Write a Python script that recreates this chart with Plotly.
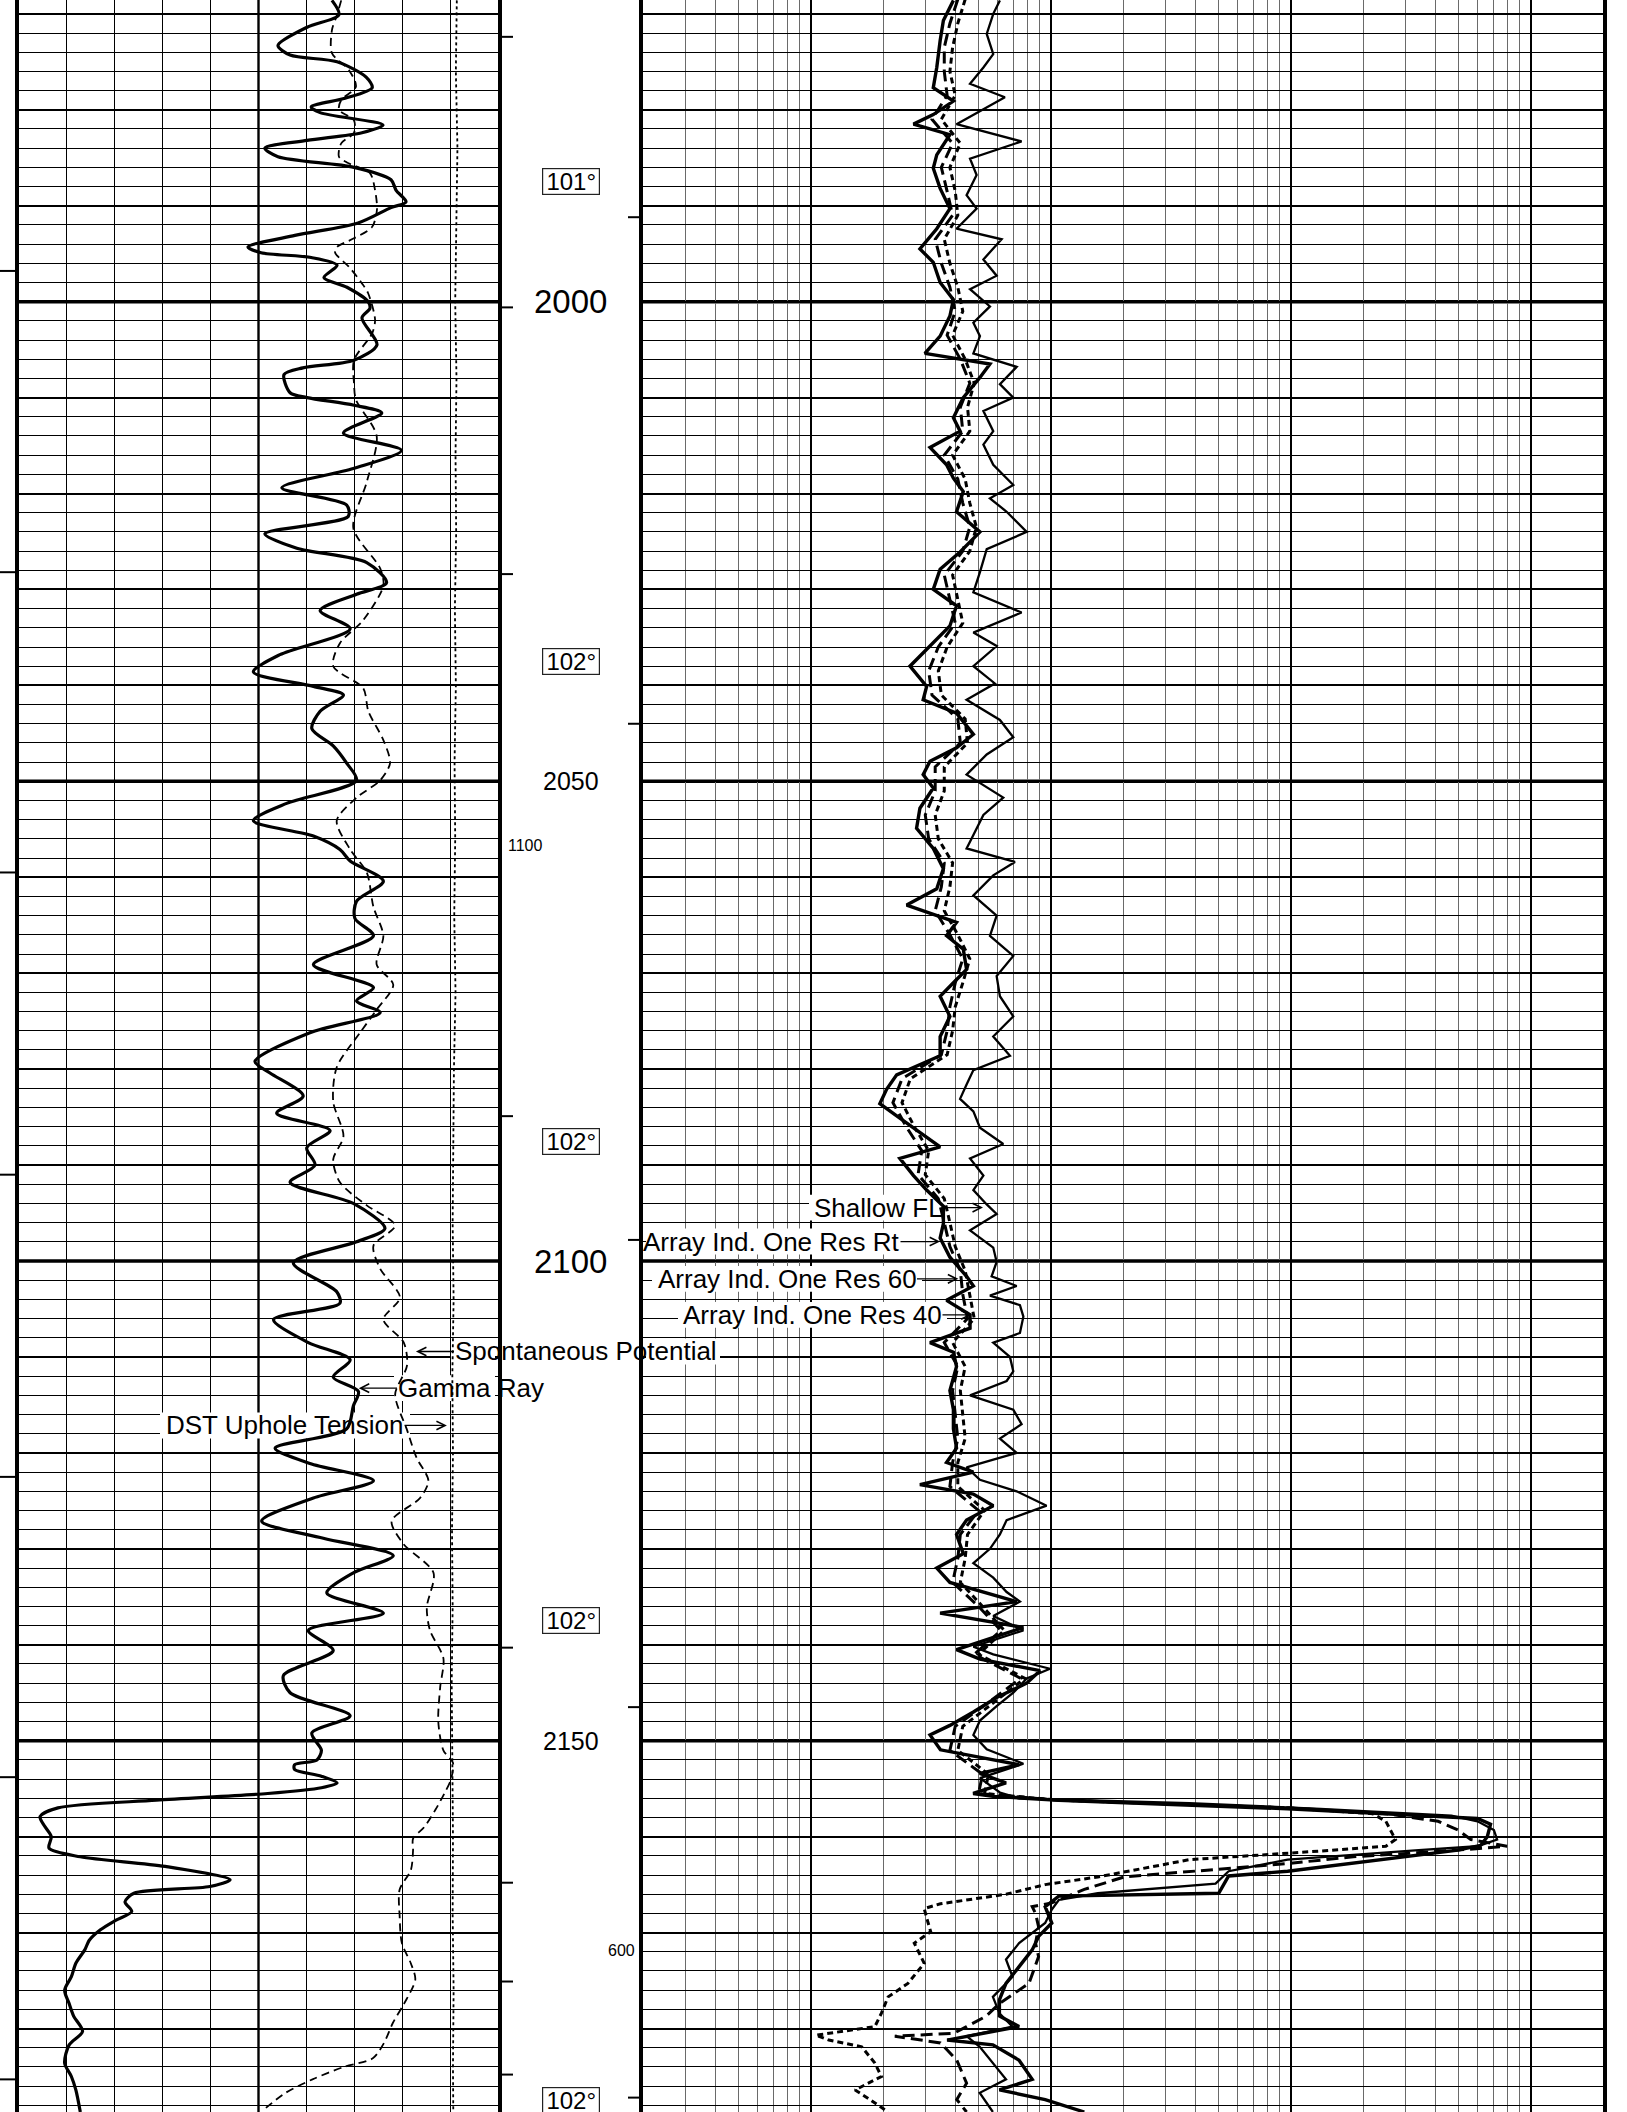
import numpy as np
import plotly.graph_objects as go

W, H = 1627, 2112
TOP_DEPTH, BOTTOM_DEPTH = 1968.56, 2188.7
FONT = "Liberation Sans, Arial, sans-serif"

# ---------------- data: left track (track units 0-150) ----------------
GR = [(1968.6,98.0),(1970.1,100.2),(1971.4,90.2),(1973.3,81.1),(1974.3,84.9),(1975.0,99.6),(1976.6,108.7),
      (1977.7,110.6),(1978.8,102.1),(1979.7,91.5),(1980.3,94.3),(1981.6,114.0),(1982.4,107.4),(1983.2,90.2),
      (1984.0,77.0),(1984.9,81.1),(1986.0,104.9),(1987.3,116.5),(1988.4,118.1),(1989.6,121.2),(1990.2,116.5),
      (1991.8,106.2),(1993.1,86.4),(1994.3,71.7),(1994.9,75.8),(1995.4,91.5),(1996.2,99.6),(1997.5,95.5),
      (1998.5,102.7),(2000.0,109.3),(2000.7,109.9),(2001.7,107.4),(2004.5,112.1),(2006.1,104.9),(2006.9,88.9),
      (2007.6,83.0),(2009.5,84.9),(2010.0,90.2),(2010.8,104.9),(2011.6,113.6),(2013.7,101.6),(2015.5,119.8),
      (2017.4,104.7),(2019.4,82.3),(2021.2,102.6),(2022.4,103.1),(2024.2,77.0),(2025.7,87.0),(2027.2,108.9),
      (2029.3,115.1),(2030.5,105.7),(2032.2,94.3),(2034.1,103.7),(2036.8,81.7),(2038.6,73.4),(2040.1,92.2),
      (2041.0,101.6),(2042.7,94.3),(2044.5,91.7),(2046.3,98.4),(2048.1,102.6),(2049.9,105.7),(2052.3,83.8),
      (2054.1,73.4),(2055.7,92.2),(2057.1,100.5),(2058.3,103.7),(2060.4,114.1),(2062.5,105.7),(2064.3,105.2),
      (2066.1,111.0),(2069.1,92.2),(2071.5,111.0),(2072.9,105.7),(2074.1,113.1),(2076.2,91.1),(2079.2,73.9),
      (2080.4,78.6),(2082.8,89.0),(2084.6,80.7),(2086.4,97.4),(2088.2,90.1),(2090.0,92.7),(2091.8,84.9),
      (2094.0,104.7),(2096.6,114.6),(2098.0,105.7),(2100.2,85.9),(2103.2,99.5),(2104.4,100.5),(2106.1,79.7),
      (2108.5,90.6),(2110.3,103.7),(2112.1,98.4),(2113.6,106.3),(2115.1,104.7),(2117.5,102.6),(2119.5,80.2),
      (2121.1,91.1),(2122.9,111.0),(2124.7,92.2),(2127.1,76.0),(2128.9,95.3),(2130.7,117.2),(2132.5,104.7),
      (2134.6,96.4),(2136.7,114.1),(2138.5,90.6),(2140.6,98.4),(2143.2,82.8),(2145.0,84.9),(2147.4,103.7),
      (2149.2,91.7),(2151.0,94.7),(2152.0,93.3),(2152.5,86.3),(2153.0,86.3),(2153.7,94.7),(2154.4,99.6),
      (2154.9,94.7),(2155.5,77.9),(2156.2,43.0),(2157.0,12.2),(2157.9,6.6),(2158.9,8.0),(2160.0,10.1),
      (2161.2,9.4),(2162.1,19.2),(2163.1,45.8),(2164.5,66.1),(2165.2,59.8),(2165.9,36.0),(2166.8,33.2),
      (2167.8,35.3),(2168.7,30.4),(2169.7,25.5),(2170.8,22.0),(2171.8,20.6),(2173.2,17.8),(2174.6,16.4),
      (2176.0,14.3),(2177.4,15.7),(2178.7,17.1),(2180.3,19.9),(2181.7,15.7),(2183.6,14.3),(2185.0,16.4),
      (2186.4,17.8),(2188.7,19.2)]

SP = [(1968.6,100.9),(1970.1,99.6),(1971.7,98.0),(1974.1,98.0),(1975.9,103.4),(1977.6,105.5),(1979.0,100.9),
      (1980.0,100.2),(1981.1,104.9),(1982.4,104.9),(1983.5,100.9),(1984.9,100.2),(1985.5,102.7),(1986.6,109.9),
      (1988.4,111.5),(1990.4,112.1),(1992.2,110.6),(1993.4,104.9),(1994.3,99.6),(1994.9,99.0),(1996.4,103.4),
      (1998.1,107.4),(1999.1,109.3),(2001.9,111.5),(2003.3,110.6),(2006.1,104.9),(2008.5,104.9),(2010.2,105.5),
      (2014.0,112.0),(2018.8,108.9),(2023.6,104.7),(2027.8,113.1),(2029.6,114.1),(2033.2,107.8),(2035.6,100.5),
      (2038.0,98.4),(2040.3,107.8),(2042.7,109.4),(2045.7,114.1),(2048.1,116.2),(2049.9,113.1),(2051.7,105.7),
      (2054.1,99.5),(2057.1,103.7),(2059.5,108.9),(2063.1,111.0),(2066.1,114.1),(2069.1,112.0),(2071.2,117.2),
      (2073.8,112.0),(2076.2,106.8),(2079.8,99.5),(2083.4,98.4),(2087.0,101.6),(2089.4,98.4),(2091.8,100.5),
      (2094.2,108.9),(2096.3,117.8),(2098.4,111.0),(2100.8,113.1),(2103.8,119.3),(2106.1,114.1),(2108.5,120.5),
      (2110.9,121.5),(2113.9,117.8),(2117.5,121.4),(2120.5,124.5),(2122.9,128.2),(2124.7,125.6),(2127.1,116.7),
      (2129.5,120.4),(2132.5,129.8),(2136.1,127.7),(2138.5,128.7),(2141.4,132.9),(2144.4,131.9),(2148.0,131.3),
      (2151.0,132.9),(2152.3,135.9),(2154.1,135.2),(2155.5,133.2),(2157.2,130.4),(2159.0,126.9),(2160.2,123.4),
      (2161.4,123.4),(2163.5,122.7),(2165.5,119.2),(2168.3,119.2),(2171.1,119.9),(2173.2,122.7),(2174.9,124.1),
      (2177.4,120.6),(2179.4,117.1),(2181.5,114.3),(2183.1,110.8),(2184.0,101.7),(2185.3,91.9),(2186.7,83.5),
      (2188.5,76.5)]

TENSION = [(1968.6,137.1),(1976,136.8),(1984,137.3),(1992,136.9),(2000,136.6),(2008,137.0),(2016,136.7),
           (2024,136.9),(2032,136.5),(2040,136.8),(2048,136.4),(2056,136.6),(2064,136.3),(2072,136.7),
           (2080,136.2),(2088,136.0),(2096,135.8),(2104,136.1),(2112,135.7),(2120,135.9),(2128,135.6),
           (2136,135.8),(2144,135.5),(2152,135.7),(2160,135.9),(2168,135.8),(2176,136.1),(2184,135.9),
           (2188.7,136.0)]

# ---------------- data: right track (ohm-m, log 0.2-2000) ----------------
SFL = [(1968.6,6.14),(1970.0,5.76),(1972.1,5.41),(1974.2,5.76),(1975.6,5.24),(1977.3,4.61),(1978.7,6.44),
       (1980.1,5.07),(1981.5,4.05),(1983.3,7.56),(1985.1,4.61),(1986.8,4.91),(1988.9,4.46),(1990.3,4.91),
       (1992.4,4.05),(1993.5,6.24),(1995.6,5.24),(1997.3,5.95),(1998.7,4.61),(2000.5,5.58),(2002.2,4.76),
       (2003.6,5.07),(2005.4,4.76),(2006.8,7.21),(2008.6,6.14),(2010.0,6.98),(2011.4,5.24),(2013.5,5.76),
       (2014.9,5.24),(2017.0,5.76),(2019.1,6.98),(2020.5,5.58),(2021.9,6.55),(2024.0,7.94),(2025.8,5.41),
       (2028.2,5.07),(2030.3,4.76),(2032.4,7.56),(2034.5,4.76),(2035.9,5.95),(2038.0,4.76),(2039.8,5.85),
       (2041.5,4.46),(2043.6,6.14),(2045.4,6.98),(2047.2,5.41),(2049.3,4.46),(2051.7,6.34),(2053.5,5.24),
       (2055.6,4.76),(2057.0,4.46),(2058.4,7.09),(2059.8,5.76),(2061.9,4.76),(2064.0,5.95),(2066.1,5.58),
       (2068.2,6.98),(2070.3,5.95),(2072.4,6.14),(2074.5,6.98),(2076.6,5.76),(2078.6,6.76),(2080.1,4.76),
       (2081.6,4.46),(2083.1,4.19),(2084.4,4.76),(2086.1,5.07),(2087.8,6.34),(2089.3,4.61),(2091.1,5.24),
       (2092.6,4.76),(2094.1,5.41),(2095.1,5.95),(2096.8,4.61),(2098.6,5.76),(2100.1,5.95),(2101.6,5.67),
       (2102.6,7.21),(2103.6,5.58),(2104.6,7.44),(2105.8,7.69),(2107.5,7.44),(2108.5,5.76),(2110.0,6.76),
       (2111.5,6.98),(2112.5,6.55),(2114.0,4.61),(2115.5,6.98),(2117.0,7.56),(2118.5,6.14),(2120.0,7.21),
       (2121.5,4.46),(2122.8,5.07),(2124.0,7.21),(2125.5,9.61),(2127.0,6.55),(2128.5,6.14),(2130.0,5.58),
       (2131.5,4.76),(2133.0,5.76),(2134.5,6.55),(2135.5,7.44),(2137.0,5.76),(2138.5,7.69),(2140.2,4.76),
       (2141.0,5.76),(2142.5,9.93),(2143.5,7.94),(2145.0,6.98),(2146.4,5.95),(2147.9,5.07),(2149.4,4.76),
       (2150.9,5.41),(2152.4,7.69),(2153.9,5.07),(2155.4,6.14),(2156.0,7.38),(2156.5,37.8),(2157.1,133),
       (2157.8,467),(2158.4,600),(2159.3,702),(2160.3,724),(2161.0,600),(2161.4,341),(2162.4,97),(2163.6,55.1),
       (2164.9,48.6),(2165.9,15.7),(2166.6,10.8),(2167.6,10.1),(2169.0,9.48),(2171.1,7.38),(2172.8,6.51),
       (2174.6,6.93),(2176.7,5.74),(2178.4,6.11),(2179.8,6.93),(2180.8,4.46),(2181.9,5.06),(2183.6,5.74),
       (2185.3,6.51),(2186.7,5.06),(2188.7,5.74)]

RT = [(1968.6,3.93),(1970.7,3.57),(1972.8,3.46),(1975.6,3.35),(1977.7,3.24),(1979.1,3.93),(1980.5,3.24),
      (1981.5,2.68),(1982.6,3.80),(1984.7,3.35),(1986.1,3.24),(1988.2,3.46),(1990.3,3.80),(1992.4,3.35),
      (1994.5,2.85),(1995.9,3.24),(1998.0,3.46),(1999.8,3.93),(2001.5,3.80),(2003.6,3.46),(2005.4,2.99),
      (2006.5,5.58),(2007.9,5.07),(2010.0,4.32),(2012.1,3.93),(2013.5,4.19),(2015.2,3.14),(2017.0,3.68),
      (2018.4,3.93),(2019.8,4.32),(2021.9,4.05),(2024.0,5.07),(2026.1,4.19),(2027.9,3.46),(2030.0,3.24),
      (2031.7,4.05),(2033.8,3.80),(2035.9,3.14),(2038.0,2.59),(2040.1,3.04),(2041.5,2.94),(2042.9,4.05),
      (2045.1,4.76),(2046.5,4.05),(2047.9,3.14),(2049.3,2.94),(2050.7,3.24),(2052.8,2.85),(2054.9,2.76),
      (2057.0,3.24),(2059.1,3.57),(2061.2,3.35),(2062.9,2.51),(2064.7,4.05),(2066.1,3.68),(2067.5,4.32),
      (2069.6,4.46),(2071.0,3.93),(2072.4,3.46),(2074.5,3.80),(2076.6,3.46),(2078.6,3.46),(2080.6,2.28),
      (2082.1,2.07),(2083.6,1.94),(2085.1,2.35),(2086.6,2.85),(2088.1,3.46),(2089.3,2.35),(2091.1,2.68),
      (2092.6,3.04),(2094.3,3.57),(2096.1,3.57),(2097.6,3.46),(2099.6,3.80),(2101.6,4.46),(2102.6,4.76),
      (2104.1,3.68),(2105.6,4.61),(2107.0,4.61),(2108.5,3.14),(2109.5,3.93),(2111.0,4.05),(2113.5,3.80),
      (2115.5,3.93),(2117.5,3.93),(2119.5,4.05),(2121.0,3.68),(2122.0,4.76),(2123.3,2.85),(2124.3,4.76),
      (2125.5,5.76),(2127.0,4.46),(2128.5,4.05),(2130.5,4.32),(2132.0,3.35),(2133.5,3.80),(2135.5,7.21),
      (2136.7,3.46),(2138.2,7.69),(2140.5,4.05),(2141.5,5.07),(2142.7,9.02),(2144.0,7.94),(2145.5,5.95),
      (2147.0,4.76),(2148.4,3.80),(2149.4,3.14),(2150.95,3.47),(2152.5,7.38),(2153.4,5.06),(2154.4,6.51),
      (2155.5,4.75),(2155.8,5.74),(2156.2,10.8),(2157.1,97),(2158.1,600),(2158.7,680),(2160.0,659),
      (2160.9,619),(2161.4,497),(2163.6,97),(2164.1,55.1),(2165.9,50.1),(2166.2,10.8),(2167.3,9.48),
      (2169.0,10.1),(2170.4,8.9),(2171.8,8.37),(2173.5,7.38),(2175.3,6.51),(2177.0,6.11),(2178.7,6.11),
      (2179.8,7.38),(2181.2,3.70),(2181.7,5.74),(2183.3,7.38),(2185.3,8.37),(2186.4,6.11),(2187.4,9.48),
      (2188.7,13.8)]

RES60 = [(1968.5,4.1),(1971,3.8),(1973.5,3.6),(1976,3.6),(1978.5,3.7),(1981,3.2),(1983.5,3.9),(1986,3.5),
         (1988.5,3.7),(1991,3.9),(1993.5,3.3),(1996,3.5),(1998.5,3.8),(2001,4.0),(2003.5,3.7),(2006,4.2),
         (2008.5,4.6),(2011,4.2),(2013.5,4.3),(2016,3.6),(2018.5,4.1),(2021,4.3),(2023.5,4.6),(2026,4.3),
         (2028.5,3.6),(2031,3.8),(2033.5,4.0),(2036,3.4),(2038.5,3.1),(2041,3.2),(2043.5,4.1),(2046,4.2),
         (2048.5,3.3),(2051,3.3),(2053.5,3.0),(2056,3.1),(2058.5,3.6),(2061,3.5),(2063.5,3.3),(2066,3.8),
         (2068.5,4.3),(2071,4.0),(2073.5,3.8),(2076,3.7),(2078.5,3.5),(2081,2.4),(2083.5,2.2),(2086,2.5),
         (2088.5,2.9),(2091,2.8),(2093.5,3.4),(2096,3.6),(2098.5,3.8),(2101,4.2),(2103.5,4.3),(2106,4.5),
         (2108.5,3.6),(2111,4.1),(2113.5,3.9),(2116,4.0),(2118.5,4.1),(2121,3.9),(2123.5,3.8),(2126,5.0),
         (2128.5,4.2),(2131,4.1),(2133.5,3.9),(2136,5.0),(2138.5,6.2),(2141,4.8),(2143.5,7.5),(2146,5.5),
         (2148.5,4.0),(2151,3.8),(2153.5,5.2),(2155.5,5.0),(2156.2,10.8),(2157.0,97),(2157.6,249),(2158.4,411),
         (2159.3,497),(2160.3,563),(2161.0,796),(2161.4,497),(2162.1,182),(2162.8,97),(2163.6,37.8),
         (2164.2,20.2),(2165.5,13.8),(2166.9,10.1),(2167.3,8.37),(2168.0,8.64),(2169.4,8.9),(2171.1,8.64),
         (2172.5,8.9),(2175.3,8.11),(2177.4,6.11),(2178.7,5.39),(2179.8,4.46),(2180.5,3.94),(2180.8,2.24),
         (2181.5,3.47),(2183.3,4.06),(2185.7,4.46),(2187.4,4.06),(2188.7,4.46)]

RES40 = [(1968.5,4.4),(1971,4.1),(1973.5,3.9),(1976,3.8),(1978.5,4.0),(1981,3.5),(1983.5,4.2),(1986,3.8),
         (1988.5,4.0),(1991,4.1),(1993.5,3.6),(1996,3.8),(1998.5,4.1),(2001,4.3),(2003.5,3.9),(2006,4.4),
         (2008.5,4.8),(2011,4.5),(2013.5,4.6),(2016,3.9),(2018.5,4.4),(2021,4.6),(2023.5,4.9),(2026,4.6),
         (2028.5,3.9),(2031,4.1),(2033.5,4.3),(2036,3.7),(2038.5,3.4),(2041,3.5),(2043.5,4.4),(2046,4.5),
         (2048.5,3.6),(2051,3.6),(2053.5,3.3),(2056,3.4),(2058.5,3.9),(2061,3.8),(2063.5,3.6),(2066,4.1),
         (2068.5,4.6),(2071,4.3),(2073.5,4.0),(2076,3.9),(2078.5,3.7),(2081,2.6),(2083.5,2.4),(2086,2.7),
         (2088.5,3.1),(2091,3.0),(2093.5,3.6),(2096,3.8),(2098.5,4.0),(2101,4.4),(2103.5,4.6),(2106,4.8),
         (2108.5,3.9),(2111,4.4),(2113.5,4.2),(2116,4.3),(2118.5,4.4),(2121,4.1),(2123.5,4.1),(2126,5.3),
         (2128.5,4.5),(2131,4.4),(2133.5,4.2),(2136,5.2),(2138.5,6.4),(2141,5.0),(2143.5,7.8),(2146,5.8),
         (2148.5,4.3),(2151,4.1),(2153.5,5.5),(2155.5,5.3),(2156.2,10.8),(2157.0,97),(2157.6,219),(2158.4,249),
         (2159.6,263),(2160.3,273),(2161.0,249),(2161.5,133),(2162.4,37.8),(2164.2,15.7),(2165.0,9.48),
         (2166.0,6.51),(2167.0,3.47),(2167.5,2.97),(2168.7,3.06),(2169.9,3.16),(2171.1,2.70),(2173.2,2.97),
         (2175.3,2.54),(2176.7,2.10),(2178.4,1.97),(2179.8,1.85),(2180.7,1.05),(2181.2,1.19),(2181.9,1.63),
         (2183.6,1.85),(2185.0,1.97),(2186.4,1.53),(2187.3,1.74),(2188.7,2.10)]

# ---------------- depth track text & marks ----------------
depth_labels = [2000, 2050, 2100, 2150]
depth_label_sizes = [33, 25, 33, 25]
temp_depths = [1987.5, 2037.5, 2087.5, 2137.5, 2187.5]
temp_labels = ["101°", "102°", "102°", "102°", "102°"]
edge_marks = [1996.8, 2028.2, 2059.5, 2091.0, 2122.5, 2153.8, 2185.3]
depth_left_marks = [1972.4, 2000.6, 2028.4, 2084.9, 2140.3, 2164.8, 2175.1, 2184.8]
depth_right_marks = [1991.2, 2044.0, 2097.8, 2146.5, 2187.2]
small_labels = [("1100", 2056.7, 506, "left"), ("600", 2171.9, 637, "right")]

# curve labels: text, depth, arrow target value, text left px, text right px
left_curve_labels = [("Spontaneous Potential", 2109.43, 124.3, 453, 718),
                     ("Gamma Ray", 2113.25, 106.4, 396, 545),
                     ("DST Uphole Tension", 2117.14, 134.0, 162, 408)]
right_curve_labels = [("Shallow FL", 2094.43, 5.22, 811, 945),
                      ("Array Ind. One Res Rt", 2097.97, 3.46, 640, 903),
                      ("Array Ind. One Res 60", 2101.86, 4.12, 654, 920),
                      ("Array Ind. One Res 40", 2105.61, 4.68, 680, 945)]

# ---------------- geometry helpers ----------------
LX0, LX1 = 19, 498
RX0, RX1 = 643, 1603
GR_MIN, GR_MAX = 0, 150
R_MIN, R_MAX = 0.2, 2000


def left_val(px):
    return GR_MIN + (px - LX0) / (LX1 - LX0) * (GR_MAX - GR_MIN)


def right_log(px):
    return np.log10(R_MIN) + (px - RX0) / (RX1 - RX0) * (np.log10(R_MAX) - np.log10(R_MIN))


def unzip(pairs):
    return [p[0] for p in pairs], [p[1] for p in pairs]


fig = go.Figure()

# white label backgrounds (above the grid, below the curves)
half = 1.35
for text, dep, tip, px0, px1 in left_curve_labels + right_curve_labels:
    a, b = px0 - 2, px1 + 2
    if a < LX1 and b > LX0:
        xa, xb = left_val(max(a, LX0 + 3)), left_val(min(b, LX1 - 3))
        fig.add_trace(go.Scatter(x=[xa, xb, xb, xa, xa], y=[dep - half, dep - half, dep + half, dep + half, dep - half],
                                 mode="lines", fill="toself", fillcolor="white", line=dict(width=0),
                                 xaxis="x", yaxis="y", hoverinfo="skip"))
    if a < RX1 and b > RX0:
        xa, xb = 10 ** right_log(max(a, RX0 + 3)), 10 ** right_log(min(b, RX1 - 3))
        fig.add_trace(go.Scatter(x=[xa, xb, xb, xa, xa], y=[dep - half, dep - half, dep + half, dep + half, dep - half],
                                 mode="lines", fill="toself", fillcolor="white", line=dict(width=0),
                                 xaxis="x2", yaxis="y2", hoverinfo="skip"))

d, v = unzip(TENSION)
fig.add_trace(go.Scatter(x=v, y=d, mode="lines", xaxis="x", yaxis="y", name="DST Uphole Tension",
                         line=dict(color="black", width=1.8, dash="3px,3px")))
d, v = unzip(SP)
fig.add_trace(go.Scatter(x=v, y=d, mode="lines", xaxis="x", yaxis="y", name="Spontaneous Potential",
                         line=dict(color="black", width=1.8, dash="8px,5px", shape="spline", smoothing=0.8)))
d, v = unzip(GR)
fig.add_trace(go.Scatter(x=v, y=d, mode="lines", xaxis="x", yaxis="y", name="Gamma Ray",
                         line=dict(color="black", width=3.2, shape="spline", smoothing=0.8)))

d, v = unzip(RES40)
fig.add_trace(go.Scatter(x=v, y=d, mode="lines", xaxis="x2", yaxis="y2", name="Array Ind. One Res 40",
                         line=dict(color="black", width=3.0, dash="6px,4px")))
d, v = unzip(RES60)
fig.add_trace(go.Scatter(x=v, y=d, mode="lines", xaxis="x2", yaxis="y2", name="Array Ind. One Res 60",
                         line=dict(color="black", width=3.0, dash="12px,6px")))
d, v = unzip(SFL)
fig.add_trace(go.Scatter(x=v, y=d, mode="lines", xaxis="x2", yaxis="y2", name="Shallow FL",
                         line=dict(color="black", width=2.3)))
d, v = unzip(RT)
fig.add_trace(go.Scatter(x=v, y=d, mode="lines", xaxis="x2", yaxis="y2", name="Array Ind. One Res Rt",
                         line=dict(color="black", width=3.4)))

yaxis_common = dict(range=[BOTTOM_DEPTH, TOP_DEPTH], domain=[0, 1], dtick=10, tick0=0,
                    showgrid=True, gridcolor="black", gridwidth=2,
                    minor=dict(dtick=2, tick0=0, showgrid=True, gridcolor="black", gridwidth=1),
                    showline=True, mirror=True, linecolor="black", linewidth=4,
                    showticklabels=False, ticks="", zeroline=False)

fig.update_layout(
    width=W, height=H, margin=dict(l=0, r=0, t=0, b=0),
    paper_bgcolor="white", plot_bgcolor="rgba(0,0,0,0)", showlegend=False,
    xaxis=dict(domain=[LX0 / W, LX1 / W], range=[GR_MIN, GR_MAX], dtick=15, tick0=0,
               showgrid=True, gridcolor="black", gridwidth=1.3, anchor="y",
               showticklabels=False, ticks="", zeroline=False, showline=False),
    yaxis=dict(anchor="x", **yaxis_common),
    xaxis2=dict(type="log", domain=[RX0 / W, RX1 / W], range=[np.log10(R_MIN), np.log10(R_MAX)],
                dtick=1, showgrid=True, gridcolor="black", gridwidth=2,
                minor=dict(dtick="D1", showgrid=True, gridcolor="#6a6a6a", gridwidth=1.2),
                anchor="y2", showticklabels=False, ticks="", zeroline=False, showline=False),
    yaxis2=dict(anchor="x2", matches="y", **yaxis_common),
)

shapes = []
# heavy 50-ft lines and heavier centre line of the linear track
for dep in range(1950, 2200, 50):
    if TOP_DEPTH <= dep <= BOTTOM_DEPTH:
        for x0, x1 in [(LX0, LX1), (RX0, RX1)]:
            shapes.append(dict(type="line", xref="paper", yref="y", x0=x0 / W, x1=x1 / W, y0=dep, y1=dep,
                               line=dict(color="black", width=3.5), layer="below"))
mid = (GR_MIN + GR_MAX) / 2
shapes.append(dict(type="line", xref="x", yref="y", x0=mid, x1=mid, y0=TOP_DEPTH, y1=BOTTOM_DEPTH,
                   line=dict(color="black", width=2.4), layer="below"))

# tick marks in margin and depth track
for dep in edge_marks:
    shapes.append(dict(type="line", xref="paper", yref="y", x0=0, x1=LX0 / W, y0=dep, y1=dep,
                       line=dict(color="black", width=2)))
for dep in depth_left_marks:
    shapes.append(dict(type="line", xref="paper", yref="y", x0=LX1 / W, x1=513 / W, y0=dep, y1=dep,
                       line=dict(color="black", width=2)))
for dep in depth_right_marks:
    shapes.append(dict(type="line", xref="paper", yref="y", x0=628 / W, x1=RX0 / W, y0=dep, y1=dep,
                       line=dict(color="black", width=2)))
fig.update_layout(shapes=shapes)

annotations = []
center_px = (LX1 + RX0) / 2
for dep, size in zip(depth_labels, depth_label_sizes):
    annotations.append(dict(x=center_px / W, y=dep, xref="paper", yref="y", text=str(dep), showarrow=False,
                            xanchor="center", yanchor="middle", font=dict(family=FONT, size=size, color="black")))
for dep, txt in zip(temp_depths, temp_labels):
    annotations.append(dict(x=center_px / W, y=dep, xref="paper", yref="y", text=txt, showarrow=False,
                            xanchor="center", yanchor="middle", width=56, height=25, borderpad=0,
                            bordercolor="#222", borderwidth=1.2, bgcolor="white",
                            font=dict(family=FONT, size=24, color="black")))
for txt, dep, px, anchor in small_labels:
    annotations.append(dict(x=px / W, y=dep, xref="paper", yref="y", text=txt, showarrow=False,
                            xanchor=anchor, yanchor="middle", font=dict(family=FONT, size=16, color="black")))

label_font = dict(family=FONT, size=26, color="black")
for text, dep, tip, px0, px1 in left_curve_labels:
    annotations.append(dict(x=tip, y=dep, xref="x", yref="y", ax=left_val((px0 + px1) / 2), ay=dep,
                            axref="x", ayref="y", text=text, showarrow=True, arrowhead=5, arrowsize=1.3,
                            arrowwidth=1.3, arrowcolor="black", standoff=0, borderpad=0, font=label_font))
for text, dep, tip, px0, px1 in right_curve_labels:
    annotations.append(dict(x=np.log10(tip), y=dep, xref="x2", yref="y2", ax=right_log((px0 + px1) / 2), ay=dep,
                            axref="x2", ayref="y2", text=text, showarrow=True, arrowhead=5, arrowsize=1.3,
                            arrowwidth=1.3, arrowcolor="black", standoff=0, borderpad=0, font=label_font))
fig.update_layout(annotations=annotations)

fig.write_html("out.html")
